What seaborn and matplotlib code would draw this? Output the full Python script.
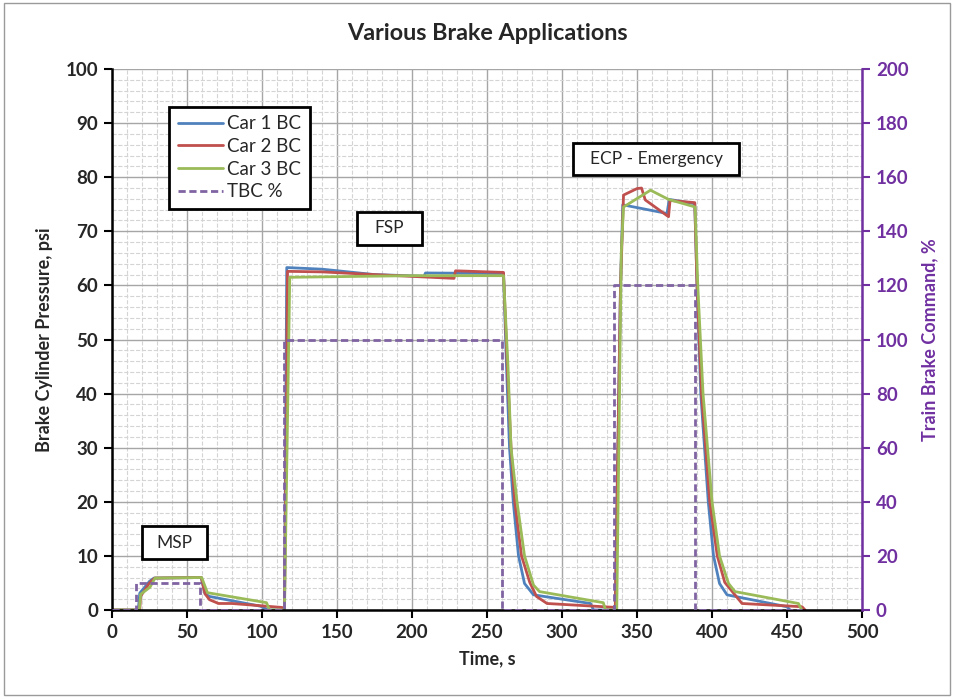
import pandas as pd
import matplotlib
matplotlib.use('Agg')
import matplotlib.pyplot as plt
import matplotlib.patches as patches
from matplotlib.ticker import MultipleLocator
from matplotlib.lines import Line2D
import seaborn as sns

# brake cylinder pressure, psi, per car
car1_t = [0, 17.5, 18.5, 25, 28, 59.5, 62, 65, 99, 104, 115, 116.5, 140, 175, 208, 209, 261,
          263, 265, 267.5, 271, 275, 281, 319, 321, 335.5, 339, 340.5, 370, 371.5, 388.5,
          390, 392.5, 397.5, 401, 405, 410, 450, 452]
car1_p = [0, 0, 3.1, 5.3, 5.9, 6.0, 3.0, 2.5, 0.7, 0, 0, 63.3, 63.0, 62.0, 61.7, 62.3, 62.2,
          45, 30, 20, 10, 4.9, 2.8, 1.2, 0, 0, 60, 74.9, 73.3, 75.9, 75.1,
          60, 40, 20, 10, 4.9, 2.8, 0.6, 0]

car2_t = [0, 18.5, 19, 25, 28.5, 59.5, 62, 65, 71, 80, 112, 115, 117, 140, 175, 228, 229, 261,
          263.5, 266, 268.5, 273, 278.5, 283, 290, 334, 335.5, 339, 341, 350, 353, 355.5, 371,
          372, 388.5, 390, 393, 398.5, 403.5, 408.5, 420, 460, 462]
car2_p = [0, 0, 2.5, 5.0, 5.9, 6.0, 3.0, 1.9, 1.2, 1.2, 0.5, 0.4, 62.6, 62.5, 62.0, 61.3, 62.7, 62.4,
          45, 30, 20, 10, 5.1, 2.5, 1.2, 0.5, 0.5, 60, 76.7, 77.9, 78.0, 75.8, 72.7,
          75.7, 75.3, 60, 40, 20, 10, 5.1, 1.2, 0.6, 0]

car3_t = [0, 18.2, 19.1, 25.3, 28.7, 59.8, 63.6, 103, 105, 115, 118.5, 200, 261, 264, 266, 270,
          275, 281, 285, 327.5, 329, 336.5, 339.5, 341, 359, 371, 388.7, 390.5, 394, 400, 405,
          411, 415.3, 457.6, 459.8]
car3_p = [0, 0, 2.9, 4.2, 5.9, 6.0, 3.2, 1.35, 0, 0, 61.5, 61.8, 61.8, 45, 30, 20,
          10, 4.6, 3.4, 1.35, 0, 0, 66, 74.5, 77.6, 75.9, 74.5, 60, 40, 20, 10,
          4.9, 3.4, 1.2, 0]

# train brake command, %
tbc_t = [0, 16, 16, 58.5, 58.5, 114.7, 114.7, 260.2, 260.2, 334.9, 334.9, 388.7, 388.7, 460]
tbc_pct = [0, 0, 10, 10, 0, 0, 100, 100, 0, 0, 120, 120, 0, 0]

names = ['Car 1 BC', 'Car 2 BC', 'Car 3 BC']
colors = ['#4F81BD', '#C0504D', '#9BBB59']
purple = '#8064A2'
axis_purple = '#7030A0'

df = pd.concat([
    pd.DataFrame({'Time': t, 'psi': p, 'Series': n})
    for n, t, p in zip(names, [car1_t, car2_t, car3_t], [car1_p, car2_p, car3_p])
], ignore_index=True)

sns.set_style('white')
plt.rcParams['font.family'] = ['Lato', 'DejaVu Sans']

fig = plt.figure(figsize=(9.54, 6.98), dpi=100)
ax = fig.add_axes([0.1174, 0.1261, 0.7862, 0.7750])

sns.lineplot(data=df, x='Time', y='psi', hue='Series', palette=dict(zip(names, colors)),
             sort=False, estimator=None, linewidth=2.0, ax=ax, legend=False)

ax.set_xlim(0, 500)
ax.set_ylim(0, 100)
ax.xaxis.set_major_locator(MultipleLocator(50))
ax.xaxis.set_minor_locator(MultipleLocator(10))
ax.yaxis.set_major_locator(MultipleLocator(10))
ax.yaxis.set_minor_locator(MultipleLocator(2))
ax.grid(which='major', color='#a6a6a6', lw=1.0)
ax.grid(which='minor', color='#d4d4d4', ls='--', lw=0.8)
ax.set_axisbelow(True)
for s in ['top', 'right']:
    ax.spines[s].set_visible(False)
for s in ['left', 'bottom']:
    ax.spines[s].set_color('black')
    ax.spines[s].set_linewidth(1.8)
ax.tick_params(which='major', direction='out', length=6, width=1.5, color='black',
               labelsize=13.5, pad=4, bottom=True, left=True)
ax.tick_params(which='minor', length=0)
for lab in ax.get_xticklabels() + ax.get_yticklabels():
    lab.set_fontweight('bold')
ax.set_xlabel('Time, s', fontsize=13, fontweight='bold', labelpad=7)
ax.set_ylabel('Brake Cylinder Pressure, psi', fontsize=13, fontweight='bold', labelpad=9)
ax.set_title('Various Brake Applications', fontsize=16.8, fontweight='bold', pad=21)

ax2 = ax.twinx()
sns.lineplot(x=tbc_t, y=tbc_pct, ax=ax2, color=purple, linewidth=2.0, sort=False,
             estimator=None, dashes=False)
ax2.lines[0].set_dashes((2.6, 1.3))
ax2.set_ylim(0, 200)
ax2.yaxis.set_major_locator(MultipleLocator(20))
for s in ['top', 'left', 'bottom']:
    ax2.spines[s].set_visible(False)
ax2.spines['right'].set_color(axis_purple)
ax2.spines['right'].set_linewidth(1.8)
ax2.tick_params(axis='y', direction='out', length=6, width=1.5, color=axis_purple,
                labelcolor=axis_purple, labelsize=13.5, pad=4, right=True)
for lab in ax2.get_yticklabels():
    lab.set_fontweight('bold')
ax2.set_ylabel('Train Brake Command, %', fontsize=13, fontweight='bold',
               color=axis_purple, labelpad=9)
ax2.grid(False)

# label boxes
boxes = [('MSP', 19.8, 9.4, 43.7, 6.1),
         ('FSP', 163.3, 67.5, 43.4, 6.1),
         ('ECP - Emergency', 307.3, 80.5, 110.9, 5.8)]
for txt, x0, y0, w, h in boxes:
    ax2.add_patch(patches.Rectangle((x0, y0 * 2), w, h * 2, facecolor='white',
                                    edgecolor='black', lw=2, zorder=5))
    ax2.text(x0 + w / 2, (y0 + h / 2) * 2, txt, ha='center', va='center',
             fontsize=12.5, zorder=6)

handles = [Line2D([], [], color=c, lw=2) for c in colors]
handles.append(Line2D([], [], color=purple, lw=2, dashes=(2.6, 1.3)))
leg = ax2.legend(handles, names + ['TBC %'], loc='upper left',
                 bbox_to_anchor=(0.0764, 0.930), borderaxespad=0, fontsize=13.5,
                 frameon=True, fancybox=False, framealpha=1, handlelength=2.4,
                 handletextpad=0.25, labelspacing=0.3, borderpad=0.45)
leg.get_frame().set_edgecolor('black')
leg.get_frame().set_linewidth(2)
leg.set_zorder(10)

fig.patches.append(patches.Rectangle((0.004, 0.004), 0.992, 0.992, transform=fig.transFigure,
                                     fill=False, edgecolor='#9a9a9a', lw=1))

fig.savefig('out.png', dpi=100)
